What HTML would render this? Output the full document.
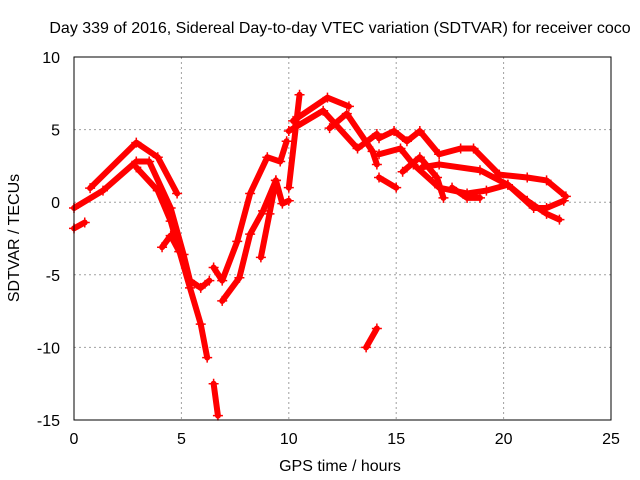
<!DOCTYPE html>
<html><head><meta charset="utf-8"><style>
body{margin:0;background:#fff}
svg{display:block;font-family:"Liberation Sans",sans-serif}
</style></head><body>
<svg id="chart" width="640" height="480">
<text x="340" y="33" font-size="16" text-anchor="middle">Day 339 of 2016, Sidereal Day-to-day VTEC variation (SDTVAR) for receiver coco</text>
<text x="340" y="471" font-size="16" text-anchor="middle">GPS time / hours</text>
<text x="19" y="238" font-size="16" text-anchor="middle" transform="rotate(-90 19 238)">SDTVAR / TECUs</text>
<g id="grid"></g><g id="series"></g>
<rect x="74" y="57" width="537" height="363" fill="none" stroke="#000" stroke-width="1"/>
<g id="ticks"></g>
</svg>
<script>
const xTicks=[0,5,10,15,20,25];
const yTicks=[-15,-10,-5,0,5,10];
const trackHours=[
[0.75,2.9,3.9,4.8],
[0,1.35,2.9,3.5,4.5,5.1,5.4,5.9,6.3],
[2.9,3.9,4.5,5.4,5.9,6.2],
[6.5,6.7],
[4.1,4.5,4.9],
[6.5,6.9,7.6,8.2,9.0,9.6,9.9],
[6.9,7.7,8.2,8.8,9.4,9.7,10.0],
[8.7,9.1,9.4],
[10.0,10.5],
[10.2,11.8,12.8],
[10.0,11.6,13.2,14.1],
[11.9,12.7,13.9,14.1],
[14.2,14.9,15.5,16.1,17.0,18.0,18.6,19.8,21.1,22.0,22.9],
[14.2,15.2,15.8,17.0,18.3,19.2,20.2,21.1,22.0,22.6],
[16.2,17.0,18.9,20.2,21.4,22.0,22.8],
[15.3,16.1,16.9,17.2],
[17.6,18.3,18.9],
[14.2,15.0],
[13.6,14.1],
[0,0.5]
];
const trackValues=[
[0.97,4.1,3.1,0.6],
[-0.4,0.8,2.8,2.8,-0.4,-3.6,-5.4,-5.9,-5.4],
[2.4,0.8,-1.3,-5.9,-8.4,-10.7],
[-12.5,-14.7],
[-3.1,-2.3,-3.4],
[-4.5,-5.4,-2.7,0.6,3.1,2.8,4.2],
[-6.8,-5.2,-2.2,-0.6,1.5,-0.1,0.1],
[-3.8,-0.8,1.5],
[1.0,7.4],
[5.6,7.2,6.6],
[4.9,6.3,3.7,4.7],
[5.1,6.1,3.5,2.6],
[4.4,4.9,4.2,4.9,3.3,3.7,3.7,1.9,1.7,1.5,0.4],
[3.3,3.7,2.6,1.0,0.6,0.8,1.2,0.1,-0.8,-1.2],
[2.4,2.6,2.2,1.2,-0.4,-0.4,0.1],
[2.1,3.1,1.7,0.3],
[1.0,0.3,0.3],
[1.7,1.0],
[-10.0,-8.7],
[-1.8,-1.4]
];
const NS="http://www.w3.org/2000/svg";
const X0=74,X1=611,Y0=420,Y1=57;
function xs(h){return X0+(h-0)/(25-0)*(X1-X0);}
function ys(v){return Y0-(v+15)/(10+15)*(Y0-Y1);}
const grid=document.getElementById('grid'),ticks=document.getElementById('ticks'),ser=document.getElementById('series');
xTicks.forEach(t=>{
 const x=xs(t);
 if(t>0&&t<25){const l=document.createElementNS(NS,'line');
 l.setAttribute('x1',x);l.setAttribute('x2',x);l.setAttribute('y1',Y1);l.setAttribute('y2',Y0);
 l.setAttribute('stroke','#a0a0a0');l.setAttribute('stroke-dasharray','2,3');
 
 
 grid.appendChild(l);}
 const tx=document.createElementNS(NS,'text');
 tx.setAttribute('x',x);tx.setAttribute('y',444);tx.setAttribute('font-size','16');tx.setAttribute('text-anchor','middle');
 tx.textContent=t;
 
 
 ticks.appendChild(tx);
});
yTicks.forEach(t=>{
 const y=ys(t);
 if(t>-15&&t<10){const l=document.createElementNS(NS,'line');
 l.setAttribute('x1',X0);l.setAttribute('x2',X1);l.setAttribute('y1',y);l.setAttribute('y2',y);
 l.setAttribute('stroke','#a0a0a0');l.setAttribute('stroke-dasharray','2,3');
 
 
 grid.appendChild(l);}
 const tx=document.createElementNS(NS,'text');
 tx.setAttribute('x',60);tx.setAttribute('y',y+6);tx.setAttribute('font-size','16');tx.setAttribute('text-anchor','end');
 tx.textContent=t;
 
 
 ticks.appendChild(tx);
});
trackHours.forEach((hs,i)=>{
 const vs=trackValues[i];
 const p=document.createElementNS(NS,'polyline');
 p.setAttribute('points',hs.map((h,j)=>xs(h)+','+ys(vs[j])).join(' '));
 p.setAttribute('fill','none');p.setAttribute('stroke','#ff0000');p.setAttribute('stroke-width','6');
 p.setAttribute('stroke-linejoin','round');p.setAttribute('stroke-linecap','round');
 
 
 ser.appendChild(p);
 hs.forEach((h,j)=>{
  const m=document.createElementNS(NS,'path');
  const x=xs(h),y=ys(vs[j]);
  m.setAttribute('d',`M${x-5},${y}H${x+5}M${x},${y-5}V${y+5}`);
  m.setAttribute('stroke','#ff0000');m.setAttribute('stroke-width','1.5');
  
  
  ser.appendChild(m);
 });
});
</script>
</body></html>
